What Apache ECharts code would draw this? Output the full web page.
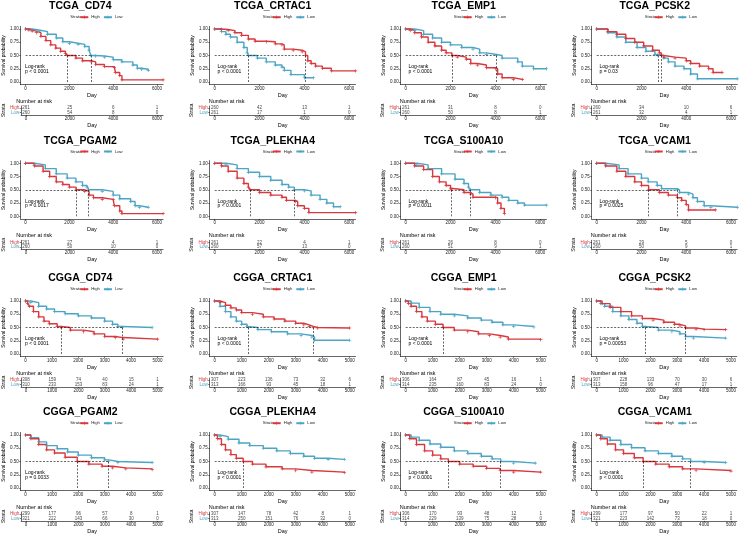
<!DOCTYPE html>
<html><head><meta charset="utf-8">
<script src="https://cdn.jsdelivr.net/npm/echarts@6/dist/echarts.min.js"></script>
<style>html,body{margin:0;padding:0;background:#fff}#c{width:739px;height:536px}</style>
</head><body><div id="c"></div><script>
const RED = '#D8393D', BLUE = '#4DA5C5';
const FONT = '"Liberation Sans", Arial, sans-serif';

const titles = ['TCGA_CD74','TCGA_CRTAC1','TCGA_EMP1','TCGA_PCSK2','TCGA_PGAM2','TCGA_PLEKHA4','TCGA_S100A10','TCGA_VCAM1',
  'CGGA_CD74','CGGA_CRTAC1','CGGA_EMP1','CGGA_PCSK2','CGGA_PGAM2','CGGA_PLEKHA4','CGGA_S100A10','CGGA_VCAM1'];
const pTexts = ['p < 0.0001','p < 0.0001','p < 0.0001','p = 0.03','p = 0.0017','p < 0.0001','p = 0.0011','p = 0.0025',
  'p < 0.0001','p < 0.0001','p < 0.0001','p = 0.00053','p = 0.0033','p < 0.0001','p < 0.0001','p < 0.0001'];
const tcgaTicks = [0, 2000, 4000, 6000];
const cggaTicks = [0, 1000, 2000, 3000, 4000, 5000];
const survTicks = [0, 0.25, 0.5, 0.75, 1];

// Kaplan-Meier step points [day, survival]
const tcgaCD74High = [[0,1],[150,0.98],[300,0.96],[490,0.93],[700,0.86],[930,0.78],[1150,0.70],[1380,0.64],[1600,0.58],[1820,0.54],[1900,0.50],[2300,0.45],[2600,0.40],[3000,0.38],[3200,0.33],[3600,0.29],[4050,0.27],[4100,0.18],[4300,0.12],[4400,0.04],[6280,0.04]];
const tcgaCD74Low = [[0,1],[300,0.98],[600,0.95],[1000,0.90],[1400,0.83],[1700,0.76],[2000,0.73],[2400,0.71],[2700,0.67],[2900,0.60],[2980,0.50],[3200,0.49],[3600,0.47],[4000,0.42],[4400,0.38],[4900,0.32],[5100,0.26],[5300,0.24],[5600,0.22]];
const tcgaCRTAC1High = [[0,1],[300,0.99],[600,0.97],[900,0.93],[1200,0.88],[1500,0.81],[1800,0.77],[2300,0.76],[2700,0.72],[3000,0.70],[3100,0.62],[3500,0.60],[3900,0.57],[4050,0.50],[4150,0.40],[4300,0.35],[4500,0.30],[4800,0.26],[5200,0.21],[6280,0.21]];
const tcgaCRTAC1Low = [[0,1],[300,0.95],[500,0.90],[700,0.85],[1000,0.75],[1300,0.65],[1450,0.55],[1510,0.50],[1900,0.45],[2300,0.38],[2700,0.32],[3000,0.28],[3100,0.22],[3400,0.14],[4000,0.08],[4400,0.08]];
const tcgaEMP1High = [[0,1],[200,0.97],[400,0.93],[700,0.85],[1000,0.75],[1300,0.68],[1600,0.60],[1800,0.55],[2060,0.50],[2300,0.47],[2700,0.43],[2900,0.35],[3200,0.32],[3600,0.27],[4000,0.25],[4100,0.15],[4300,0.08],[4800,0.05],[5200,0.05]];
const tcgaEMP1Low = [[0,1],[400,0.97],[800,0.90],[1200,0.83],[1600,0.75],[2000,0.70],[2500,0.65],[3000,0.62],[3300,0.55],[3600,0.52],[4045,0.50],[4300,0.45],[5000,0.38],[5200,0.30],[5700,0.25],[6280,0.25]];
const tcgaPCSK2High = [[0,1],[500,0.95],[900,0.90],[1300,0.82],[1700,0.75],[2100,0.68],[2500,0.60],[2800,0.55],[2890,0.50],[3000,0.47],[3500,0.45],[4000,0.40],[4200,0.35],[4600,0.30],[5000,0.25],[5200,0.18],[5600,0.18]];
const tcgaPCSK2Low = [[0,1],[500,0.93],[900,0.85],[1300,0.75],[1800,0.65],[2200,0.58],[2600,0.52],[2730,0.50],[3000,0.45],[3200,0.38],[3500,0.30],[3900,0.25],[4200,0.15],[4500,0.06],[6280,0.06]];
const tcgaPGAM2High = [[0,1],[400,0.95],[800,0.85],[1100,0.75],[1400,0.65],[1700,0.60],[2000,0.55],[2310,0.50],[2700,0.47],[2900,0.40],[3100,0.35],[3500,0.32],[4000,0.32],[4050,0.20],[4300,0.10],[4400,0.05],[6280,0.05]];
const tcgaPGAM2Low = [[0,1],[400,0.97],[900,0.90],[1400,0.80],[1900,0.72],[2300,0.65],[2600,0.58],[2800,0.55],[2880,0.50],[3500,0.47],[4000,0.40],[4300,0.33],[4800,0.28],[5000,0.20],[5200,0.17],[5600,0.17]];
const tcgaPLEKHA4High = [[0,1],[300,0.95],[600,0.85],[1000,0.72],[1300,0.62],[1500,0.55],[1580,0.50],[2000,0.45],[2500,0.40],[3000,0.36],[3200,0.30],[3600,0.28],[3700,0.20],[4000,0.15],[4200,0.07],[6280,0.07]];
const tcgaPLEKHA4Low = [[0,1],[500,0.97],[1000,0.90],[1500,0.83],[2000,0.75],[2500,0.68],[3000,0.60],[3300,0.55],[3550,0.50],[4000,0.48],[4300,0.40],[4700,0.32],[5000,0.25],[5300,0.18],[5600,0.18]];
const tcgaS100A10High = [[0,1],[400,0.95],[800,0.88],[1200,0.75],[1500,0.65],[1800,0.58],[2000,0.53],[2030,0.50],[2600,0.45],[2900,0.42],[3000,0.36],[4000,0.35],[4100,0.25],[4250,0.15],[4400,0.05]];
const tcgaS100A10Low = [[0,1],[500,0.97],[1000,0.90],[1600,0.80],[2200,0.70],[2600,0.62],[2800,0.55],[2880,0.50],[3300,0.45],[3800,0.40],[4300,0.36],[4600,0.30],[5000,0.25],[5300,0.21],[6280,0.21]];
const tcgaVCAM1High = [[0,1],[400,0.95],[900,0.85],[1300,0.75],[1700,0.65],[2000,0.58],[2320,0.50],[2800,0.45],[3200,0.40],[3600,0.35],[3800,0.30],[4000,0.22],[4100,0.12],[5300,0.12]];
const tcgaVCAM1Low = [[0,1],[400,0.97],[1000,0.90],[1400,0.80],[2000,0.72],[2300,0.65],[2700,0.58],[2900,0.52],[3600,0.50],[3700,0.45],[4100,0.42],[4300,0.35],[4500,0.28],[4800,0.20],[5100,0.17],[6280,0.17]];
const cggaCD74High = [[0,1],[80,0.95],[150,0.90],[300,0.80],[500,0.70],[700,0.62],[900,0.57],[1200,0.52],[1345,0.50],[1700,0.45],[2200,0.42],[2600,0.38],[3000,0.33],[3400,0.31],[3700,0.28],[5000,0.28]];
const cggaCD74Low = [[0,1],[200,0.97],[500,0.90],[800,0.85],[1100,0.80],[1500,0.76],[2000,0.72],[2500,0.68],[3000,0.62],[3300,0.56],[3500,0.52],[3680,0.50],[4800,0.50]];
const cggaCRTAC1High = [[0,1],[200,0.97],[400,0.92],[600,0.87],[800,0.83],[1000,0.78],[1400,0.75],[1800,0.70],[2200,0.66],[2600,0.62],[3000,0.58],[3300,0.55],[3500,0.52],[3650,0.50],[3800,0.49],[5000,0.49]];
const cggaCRTAC1Low = [[0,1],[200,0.90],[400,0.80],[600,0.70],[800,0.62],[1000,0.56],[1200,0.52],[1250,0.50],[1600,0.46],[2100,0.42],[2700,0.38],[3200,0.35],[3600,0.32],[3700,0.26],[5000,0.26]];
const cggaEMP1High = [[0,1],[100,0.95],[200,0.90],[400,0.80],[600,0.70],[800,0.62],[1100,0.56],[1385,0.50],[1800,0.45],[2300,0.42],[2700,0.38],[3100,0.35],[3500,0.32],[3800,0.28],[5000,0.27]];
const cggaEMP1Low = [[0,1],[200,0.96],[500,0.88],[900,0.80],[1300,0.75],[1800,0.72],[2300,0.68],[2800,0.64],[3200,0.60],[3600,0.55],[4000,0.52],[4750,0.51]];
const cggaPCSK2High = [[0,1],[200,0.95],[500,0.88],[900,0.80],[1300,0.72],[1700,0.67],[2100,0.64],[2500,0.60],[2900,0.56],[3100,0.53],[3310,0.49],[3700,0.47],[4000,0.46],[4800,0.46]];
const cggaPCSK2Low = [[0,1],[150,0.95],[300,0.90],[600,0.80],[900,0.72],[1200,0.65],[1500,0.58],[1700,0.52],[1810,0.50],[2300,0.45],[2800,0.42],[3100,0.38],[3310,0.33],[3600,0.30],[4800,0.30]];
const cggaPGAM2High = [[0,1],[200,0.93],[500,0.82],[800,0.72],[1100,0.66],[1500,0.58],[1960,0.50],[2400,0.45],[2900,0.41],[3300,0.38],[3800,0.36],[4800,0.35]];
const cggaPGAM2Low = [[0,1],[200,0.95],[500,0.87],[800,0.80],[1200,0.74],[1600,0.68],[2000,0.62],[2500,0.57],[3000,0.53],[3150,0.50],[3500,0.48],[4800,0.48]];
const cggaPLEKHA4High = [[0,1],[100,0.93],[250,0.82],[400,0.72],[600,0.63],[800,0.56],[1055,0.50],[1400,0.45],[1900,0.40],[2500,0.36],[3000,0.33],[3600,0.30],[4800,0.29]];
const cggaPLEKHA4Low = [[0,1],[200,0.97],[500,0.92],[900,0.85],[1300,0.80],[1800,0.75],[2300,0.70],[2800,0.65],[3300,0.60],[3700,0.56],[4200,0.54],[4800,0.54]];
const cggaS100A10High = [[0,1],[150,0.93],[400,0.82],[700,0.70],[1000,0.62],[1300,0.55],[1580,0.50],[2000,0.45],[2500,0.41],[3000,0.37],[3500,0.33],[4000,0.30],[5000,0.30]];
const cggaS100A10Low = [[0,1],[200,0.96],[500,0.90],[900,0.83],[1300,0.77],[1800,0.70],[2300,0.65],[2800,0.60],[3200,0.55],[3520,0.50],[4000,0.47],[4800,0.47]];
const cggaVCAM1High = [[0,1],[150,0.93],[400,0.83],[700,0.72],[1000,0.65],[1400,0.57],[1730,0.50],[2200,0.45],[2700,0.40],[3200,0.36],[3700,0.33],[5000,0.32]];
const cggaVCAM1Low = [[0,1],[200,0.96],[500,0.90],[900,0.82],[1300,0.76],[1800,0.70],[2300,0.65],[2800,0.60],[3200,0.55],[3500,0.50],[4000,0.48],[4800,0.48]];

// Numbers at risk (High row, Low row) at each tick
const riskTcgaCD74 = [[261,25,6,1],[260,54,8,0]];
const riskTcgaCRTAC1 = [[260,42,13,1],[261,17,1,0]];
const riskTcgaEMP1 = [[261,31,8,0],[260,50,8,1]];
const riskTcgaPCSK2 = [[260,34,10,6],[261,32,4,1]];
const riskTcgaPGAM2 = [[261,27,4,1],[260,50,10,0]];
const riskTcgaPLEKHA4 = [[261,22,4,1],[260,57,13,0]];
const riskTcgaS100A10 = [[261,26,8,0],[260,51,9,1]];
const riskTcgaVCAM1 = [[261,29,5,0],[260,50,9,1]];
const riskCggaCD74 = [[308,159,74,40,15,1],[310,233,153,83,24,1]];
const riskCggaCRTAC1 = [[307,223,136,73,32,6],[313,166,93,45,18,1]];
const riskCggaEMP1 = [[306,164,87,45,16,1],[314,235,160,83,24,0]];
const riskCggaPCSK2 = [[307,228,133,70,30,6],[313,158,96,47,17,1]];
const riskCggaPGAM2 = [[299,177,96,57,8,1],[321,222,143,66,30,0]];
const riskCggaPLEKHA4 = [[307,147,78,42,8,1],[313,250,151,76,32,0]];
const riskCggaS100A10 = [[306,170,93,48,12,1],[314,229,139,75,28,0]];
const riskCggaVCAM1 = [[299,177,97,50,22,1],[321,223,142,73,18,0]];

const highCurves = [tcgaCD74High,tcgaCRTAC1High,tcgaEMP1High,tcgaPCSK2High,tcgaPGAM2High,tcgaPLEKHA4High,tcgaS100A10High,tcgaVCAM1High,
  cggaCD74High,cggaCRTAC1High,cggaEMP1High,cggaPCSK2High,cggaPGAM2High,cggaPLEKHA4High,cggaS100A10High,cggaVCAM1High];
const lowCurves = [tcgaCD74Low,tcgaCRTAC1Low,tcgaEMP1Low,tcgaPCSK2Low,tcgaPGAM2Low,tcgaPLEKHA4Low,tcgaS100A10Low,tcgaVCAM1Low,
  cggaCD74Low,cggaCRTAC1Low,cggaEMP1Low,cggaPCSK2Low,cggaPGAM2Low,cggaPLEKHA4Low,cggaS100A10Low,cggaVCAM1Low];
const risks = [riskTcgaCD74,riskTcgaCRTAC1,riskTcgaEMP1,riskTcgaPCSK2,riskTcgaPGAM2,riskTcgaPLEKHA4,riskTcgaS100A10,riskTcgaVCAM1,
  riskCggaCD74,riskCggaCRTAC1,riskCggaEMP1,riskCggaPCSK2,riskCggaPGAM2,riskCggaPLEKHA4,riskCggaS100A10,riskCggaVCAM1];

// ---------- layout ----------
const colLeft = [17.3, 209.7, 400.7, 591.7];
const rowTop = [0, 134.3, 272, 406];
const GW = 145.8;
const PLUS = 'path://M-1,-0.2H1V0.2H-1Z M-0.2,-1H0.2V1H-0.2Z';

function median(c) { for (const p of c) if (p[1] <= 0.5) return p[0]; return null; }

const option = { animation: false, backgroundColor: '#fff', textStyle: { fontFamily: FONT },
  grid: [], xAxis: [], yAxis: [], series: [], legend: [], graphic: [] };

const axLine = { show: true, onZero: false, lineStyle: { color: '#000', width: 0.6 } };
const axTick = (vals) => ({ show: true, length: 1.5, customValues: vals, lineStyle: { color: '#000', width: 0.5 } });
const plain = v => String(v);

titles.forEach((t, i) => {
  const row = Math.floor(i / 4), col = i % 4;
  const r = rowTop[row], L = colLeft[col];
  const isT = row < 2;
  const ticks = isT ? tcgaTicks : cggaTicks;
  const xmin = isT ? -225 : -185, xmax = isT ? 6280 : 5215;
  const g = 2 * i;

  // KM panel
  option.grid.push({ left: L, top: r + 26.35, width: GW, height: 58.3 });
  option.xAxis.push({ gridIndex: g, type: 'value', min: xmin, max: xmax, axisLine: axLine, axisTick: axTick(ticks),
    axisLabel: { customValues: ticks, formatter: plain, fontSize: 4.5, margin: 1.5, color: '#222' }, splitLine: { show: false },
    name: 'Day', nameLocation: 'middle', nameGap: 5, nameTextStyle: { fontSize: 5.5, color: '#000' } });
  option.yAxis.push({ gridIndex: g, type: 'value', min: -0.05, max: 1.05, axisLine: axLine, axisTick: axTick(survTicks),
    axisLabel: { customValues: survTicks, formatter: v => v.toFixed(2), fontSize: 4.5, margin: 2, color: '#222' },
    splitLine: { show: false }, name: 'Survival probability', nameLocation: 'middle', nameRotate: 90, nameGap: 8,
    nameTextStyle: { fontSize: 4.8, color: '#000' } });

  const hi = highCurves[i], lo = lowCurves[i];
  const meds = [median(hi), median(lo)].filter(m => m !== null);
  const mLines = [[{ coord: [0, 0.5] }, { coord: [Math.max(...meds), 0.5] }]];
  meds.forEach(m => mLines.push([{ coord: [m, 0] }, { coord: [m, 0.5] }]));

  const mkSeries = (name, data, color, extra) => Object.assign({
    type: 'line', name, xAxisIndex: g, yAxisIndex: g, data, step: 'end', symbol: PLUS, symbolSize: 3.4,
    showSymbol: true, lineStyle: { width: 1.4, color }, itemStyle: { color }, z: 3
  }, extra || {});
  option.series.push(mkSeries('Low', lo, BLUE));
  option.series.push(mkSeries('High', hi, RED, {
    markLine: { silent: true, symbol: 'none', label: { show: false }, animation: false,
      lineStyle: { color: '#000', type: [2, 1.5], width: 0.6 }, data: mLines }
  }));

  // risk table
  option.grid.push({ left: L, top: r + 106, width: GW, height: 8.9 });
  option.xAxis.push({ gridIndex: g + 1, type: 'value', min: xmin, max: xmax, axisLine: axLine, axisTick: axTick(ticks),
    axisLabel: { customValues: ticks, formatter: plain, fontSize: 4.5, margin: 1.2, color: '#222' }, splitLine: { show: false },
    name: 'Day', nameLocation: 'middle', nameGap: 5.2, nameTextStyle: { fontSize: 5.5, color: '#000' } });
  option.yAxis.push({ gridIndex: g + 1, type: 'category', data: ['High', 'Low'], inverse: true,
    axisLine: axLine, axisTick: { show: true, length: 1.5, alignWithLabel: true, interval: 0, lineStyle: { color: '#000', width: 0.5 } },
    axisLabel: { fontSize: 4.5, margin: 2, interval: 0, hideOverlap: false, color: v => v === 'High' ? RED : BLUE },
    name: 'Strata', nameLocation: 'middle', nameRotate: 90, nameGap: 11, nameTextStyle: { fontSize: 5.2, color: '#000' } });
  const rk = risks[i];
  ['High', 'Low'].forEach((s, k) => {
    option.series.push({ type: 'scatter', xAxisIndex: g + 1, yAxisIndex: g + 1, symbolSize: 1,
      itemStyle: { color: 'rgba(0,0,0,0)' }, silent: true,
      data: ticks.map((tk, j) => [tk, s, rk[k][j]]),
      label: { show: true, position: 'inside', formatter: p => String(p.value[2]), fontSize: 4.5, color: '#111' } });
  });

  // legend
  option.legend.push({ data: ['High', 'Low'], left: L + 62, top: r + 15.2, itemWidth: 8, itemHeight: 4, itemGap: 3,
    padding: 0, textStyle: { fontSize: 4.2, color: '#222', padding: [0, 0, 0, -2] }, selectedMode: false });

  const txt = (x, y, text, style) => ({ type: 'text', x, y, silent: true,
    style: Object.assign({ text, fontFamily: FONT, fill: '#000', verticalAlign: 'middle' }, style) });
  option.graphic.push(txt(L + 63, r + 6.5, t, { fontSize: 10.5, fontWeight: 'bold', align: 'center' }));
  option.graphic.push(txt(L + 53, r + 17.3, 'Strata', { fontSize: 4.2, fill: '#222' }));
  option.graphic.push(txt(L + 7.8, r + 67, 'Log-rank', { fontSize: 5 }));
  option.graphic.push(txt(L + 7.8, r + 71.8, pTexts[i], { fontSize: 5 }));
  option.graphic.push(txt(L - 1, r + 101.5, 'Number at risk', { fontSize: 5.5 }));
});

const chart = echarts.init(document.getElementById('c'), null, { renderer: 'canvas' });
chart.setOption(option);
</script></body></html>
